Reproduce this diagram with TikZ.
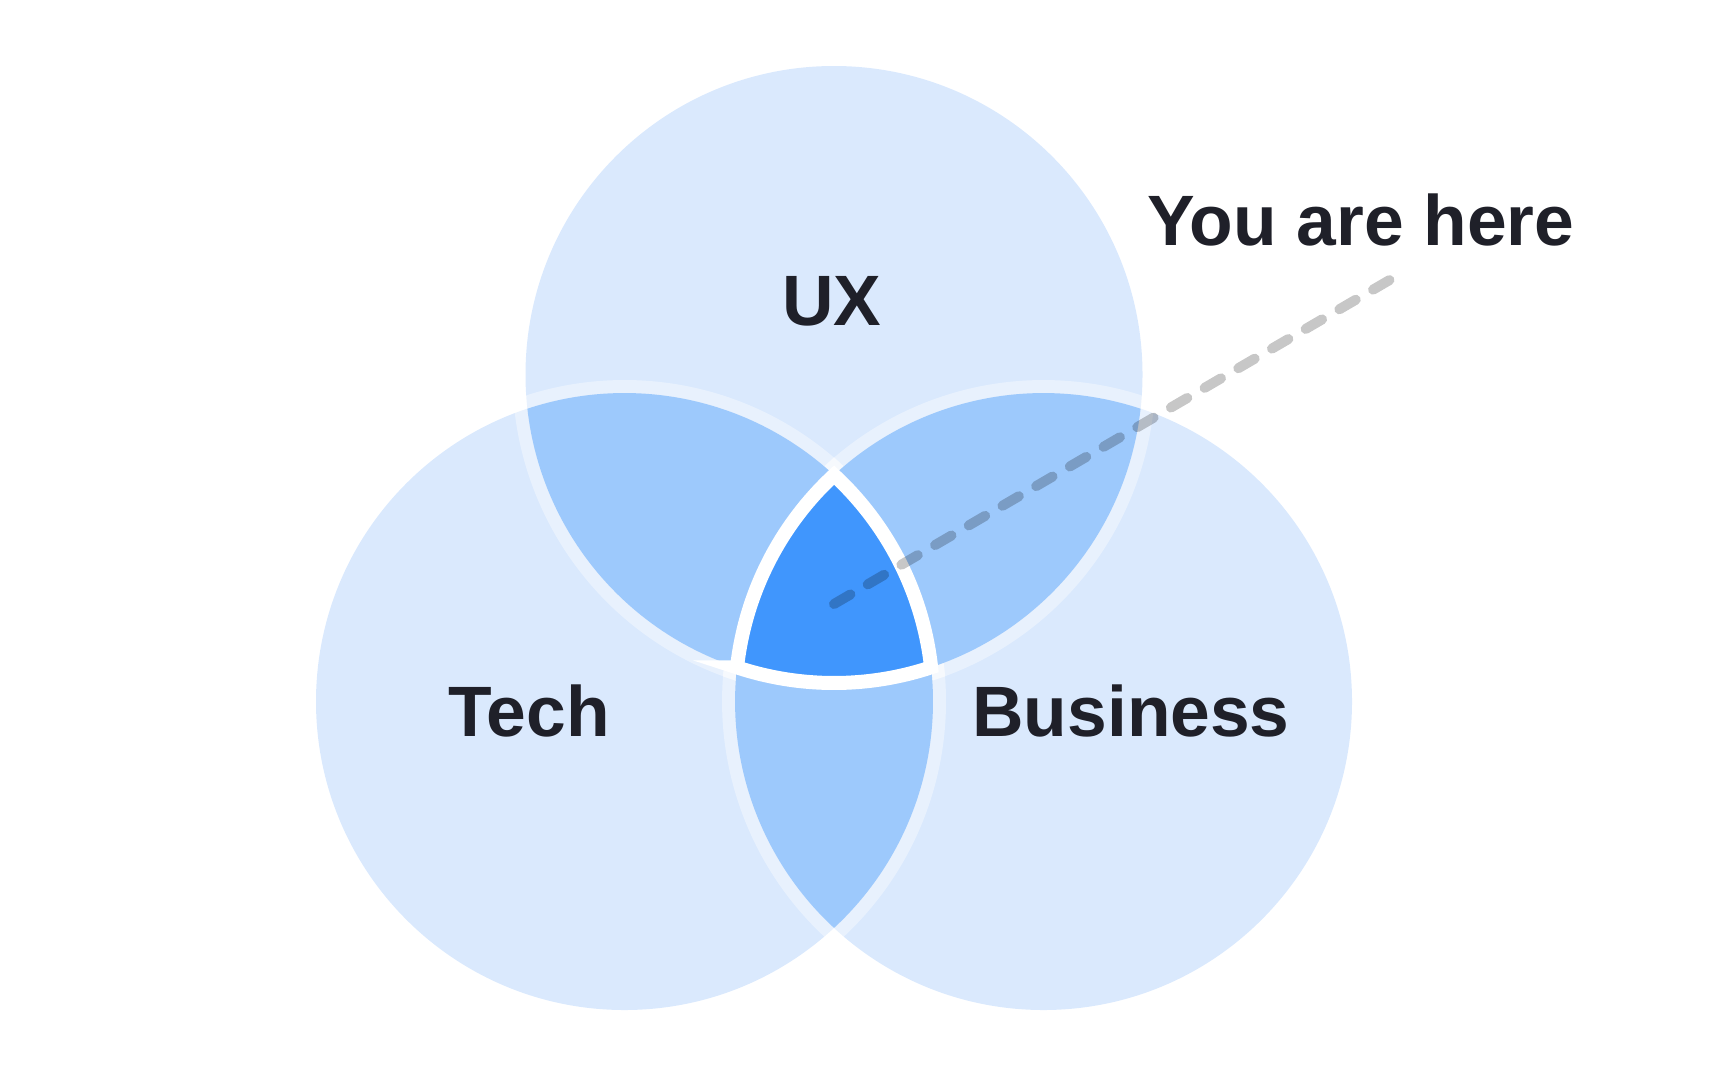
\documentclass[tikz,border=0pt]{standalone}
\usepackage{fontspec}
\setmainfont{Liberation Sans}
\usetikzlibrary{calc}
\definecolor{venn}{HTML}{DAE9FD}
\definecolor{pair}{HTML}{9DC9FC}
\definecolor{core}{HTML}{4096FD}
\definecolor{ink}{HTML}{1F2029}
\begin{document}
\begin{tikzpicture}[x=.1mm, y=.1mm,
  lbl/.style={text=ink, font=\fontsize{20.3}{24}\selectfont\bfseries, anchor=base, inner sep=0pt},
  halo/.style={draw=white, draw opacity=.4, line width=2.6mm},
  pairfill/.style={fill=pair},
  hereline/.style={draw=black, draw opacity=.22, line width=1mm, line cap=round, dash pattern=on 1.9mm off 2mm}]
\useasboundingbox (0,0) rectangle (1728,1080);
\def\r{308.5}
\coordinate (ux) at (834,705.5);
\coordinate (tech) at (624.5,378.5);
\coordinate (biz) at (1043.5,378.5);
% the three sets
\foreach \c in {ux,tech,biz} \fill[venn] (\c) circle (\r);
% pairwise overlaps, halos first
\foreach \s in {halo,pairfill}{
  \path[\s] ($(tech)+(6.37:\r)$) arc[start angle=6.37, end angle=108.35, radius=\r]
    arc[start angle=186.37, end angle=288.35, radius=\r] -- cycle;
  \path[\s] ($(ux)+(251.65:\r)$) arc[start angle=251.65, end angle=353.63, radius=\r]
    arc[start angle=71.65, end angle=173.63, radius=\r] -- cycle;
  \path[\s] ($(tech)+(-47.22:\r)$) arc[start angle=-47.22, end angle=47.22, radius=\r]
    arc[start angle=132.78, end angle=227.22, radius=\r] -- cycle;
}
% all three
\filldraw[fill=core, draw=white, line width=1.4mm, line join=miter]
  ($(ux)+(251.65:\r)$) arc[start angle=251.65, end angle=288.35, radius=\r]
  arc[start angle=6.37, end angle=47.22, radius=\r]
  arc[start angle=132.78, end angle=173.63, radius=\r] -- cycle;
\node[lbl] (uxlabel) at (832,755) {UX};
\node[lbl] (techlabel) at (529,344) {Tech};
\node[lbl] (bizlabel) at (1131,344) {Business};
\node[lbl] (youlabel) at (1361,835) {You are here};
\coordinate (here) at (834,476);
\coordinate (lineend) at (1393,802);
\draw[hereline] (here) -- (lineend);
\end{tikzpicture}
\end{document}
